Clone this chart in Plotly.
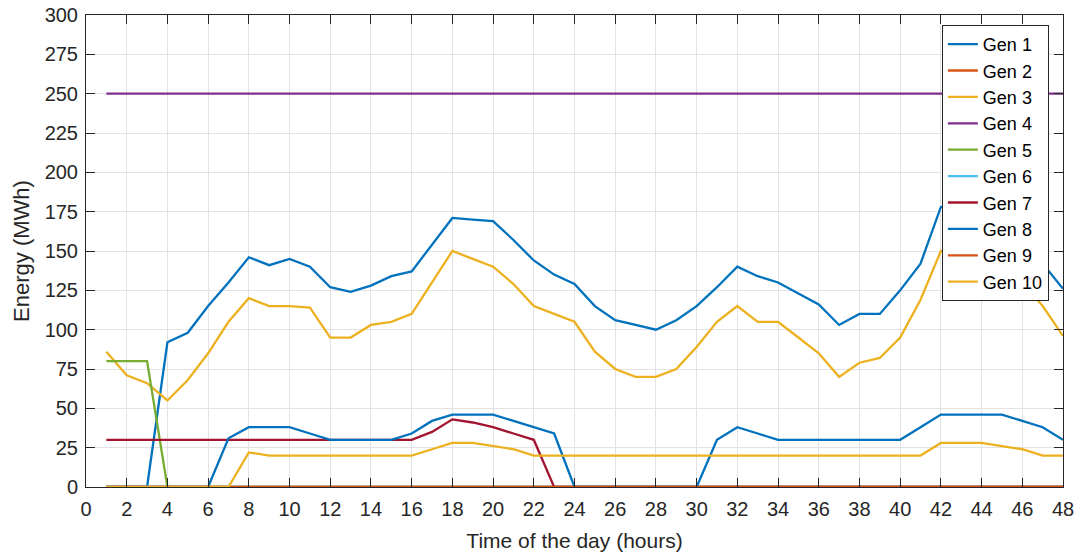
import plotly.graph_objects as go

hours = list(range(1, 49))

gen1 = [0, 0, 0, 92, 98, 115, 130, 146, 141, 145, 140, 127, 124, 128, 134, 137,
        154, 171, 170, 169, 157, 144, 135, 129, 115, 106, 103, 100, 106, 115, 127, 140,
        134, 130, 123, 116, 103, 110, 110, 125, 142, 178, 180, 175, 165, 155, 142, 126]
gen2 = [0] * 48
gen3 = [86, 71, 66, 55, 68, 85, 105, 120, 115, 115, 114, 95, 95, 103, 105, 110,
        130, 150, 145, 140, 129, 115, 110, 105, 86, 75, 70, 70, 75, 89, 105, 115,
        105, 105, 95, 85, 70, 79, 82, 95, 119, 150, 150, 145, 140, 130, 115, 96]
gen4 = [250] * 48
gen5 = [80, 80, 80] + [0] * 45
gen6 = [0] * 48
gen7 = [30] * 16 + [35, 43, 41, 38, 34, 30] + [0] * 26
gen8 = [0, 0, 0, 0, 0, 0, 31, 38, 38, 38, 34, 30, 30, 30, 30, 34,
        42, 46, 46, 46, 42, 38, 34, 0, 0, 0, 0, 0, 0, 0, 30, 38,
        34, 30, 30, 30, 30, 30, 30, 30, 38, 46, 46, 46, 46, 42, 38, 30]
gen9 = [0] * 48
gen10 = [0, 0, 0, 0, 0, 0, 0, 22, 20, 20, 20, 20, 20, 20, 20, 20,
         24, 28, 28, 26, 24, 20, 20, 20, 20, 20, 20, 20, 20, 20, 20, 20,
         20, 20, 20, 20, 20, 20, 20, 20, 20, 28, 28, 28, 26, 24, 20, 20]

names = ["Gen 1", "Gen 2", "Gen 3", "Gen 4", "Gen 5",
         "Gen 6", "Gen 7", "Gen 8", "Gen 9", "Gen 10"]
series = [gen1, gen2, gen3, gen4, gen5, gen6, gen7, gen8, gen9, gen10]
colors = ["#0072BD", "#D95319", "#EDB120", "#7E2F8E", "#77AC30",
          "#4DBEEE", "#A2142F", "#0072BD", "#D95319", "#EDB120"]

x_ticks = list(range(0, 49, 2))
y_ticks = list(range(0, 301, 25))

fig = go.Figure()
for name, vals, col in zip(names, series, colors):
    fig.add_trace(go.Scatter(x=hours, y=vals, mode="lines", name=name,
                             line=dict(color=col, width=2.3)))

axis_common = dict(showline=True, linecolor="#262626", linewidth=1, mirror="ticks",
                   ticks="inside", ticklen=9, tickcolor="#262626", automargin=False,
                   ticklabeloverflow="allow",
                   showgrid=True, gridcolor="#e3e3e3", gridwidth=1, zeroline=False)

fig.update_layout(
    width=1079, height=558,
    margin=dict(l=86, r=16, t=15, b=71),
    paper_bgcolor="white", plot_bgcolor="white",
    font=dict(family="Liberation Sans, Arial, sans-serif", color="#262626"),
    xaxis=dict(range=[0, 48], tickvals=x_ticks, ticktext=[str(v) for v in x_ticks],
               tickfont=dict(size=20), ticklabelstandoff=4,
               title=dict(text="Time of the day (hours)", standoff=14, font=dict(size=21)),
               **axis_common),
    yaxis=dict(range=[0, 300], tickvals=y_ticks, ticktext=[str(v) for v in y_ticks],
               tickfont=dict(size=20), ticklabelstandoff=3,
               title=dict(text="Energy (MWh)", standoff=8, font=dict(size=22)),
               **axis_common),
    legend=dict(x=0.876, y=0.979, xanchor="left", yanchor="top",
                bgcolor="white", bordercolor="#262626", borderwidth=1,
                font=dict(size=18, color="black"), itemwidth=30,
                tracegroupgap=0),
    showlegend=True,
)

fig.write_html("out.html", config={"displayModeBar": False},
               post_script="document.body.style.margin='0px';")
